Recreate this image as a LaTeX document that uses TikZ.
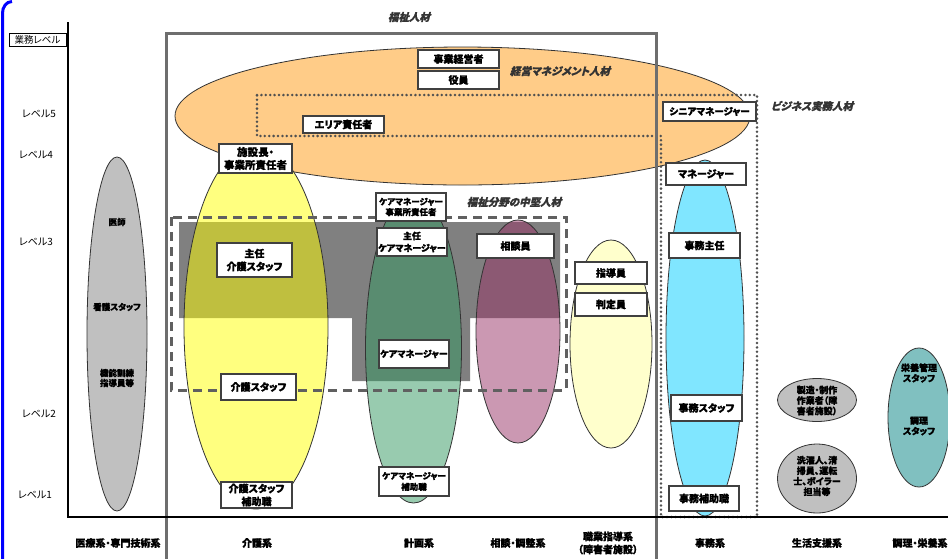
\documentclass[tikz,border=0pt]{standalone}
\usepackage{fontspec}
\setmainfont[RawFeature=+palt,BoldFeatures={FakeBold=1.2}]{Noto Sans CJK JP}
\newfontfamily\jpsl[FakeSlant=0.25,RawFeature=+palt,BoldFeatures={FakeBold=1.2}]{Noto Sans CJK JP}
\usetikzlibrary{shapes.geometric}
\definecolor{orangeF}{HTML}{FFCC88}
\definecolor{greyblk}{HTML}{808080}
\definecolor{frameC}{HTML}{6E6E6E}
\definecolor{dotC}{HTML}{606060}
\definecolor{dotD}{HTML}{505050}
\definecolor{boxC}{HTML}{404040}
\definecolor{ellC}{HTML}{333333}
\definecolor{yelF}{HTML}{FFFF00}
\definecolor{grnF}{HTML}{339961}
\definecolor{pnkF}{HTML}{993367}
\definecolor{paleY}{HTML}{FFFFCC}
\definecolor{cyanF}{HTML}{80E6FF}
\definecolor{greyF}{HTML}{C0C0C0}
\definecolor{tealF}{HTML}{80C0C0}
\definecolor{labC}{HTML}{333333}
\newcommand\fsz[2]{\fontsize{#1}{#2}\selectfont}
\begin{document}
\begin{tikzpicture}[x=1pt,y=-1pt,
  every node/.style={inner sep=0pt,outer sep=0pt},
  bx/.style={draw=boxC,fill=white,line width=1.3pt,align=center,font=\fsz{10}{12}\bfseries},
  ell/.style={ellipse,draw=ellC,line width=0.8pt,inner sep=0pt},
  etxt/.style={align=center,font=\fsz{8.5}{10}\bfseries},
  stxt/.style={align=center,font=\fsz{9}{10.5}\bfseries},
  lev/.style={font=\fsz{10}{12}},
  cat/.style={align=center,font=\fsz{10}{13}\bfseries},
  grp/.style={text=labC,font=\jpsl\bfseries\fsz{10.5}{12}}]
\useasboundingbox (0,0) rectangle (948,558);
\fill[white] (0,0) rectangle (948,558);

% blue border
\draw[blue,line width=3pt] (2.5,560) -- (2.5,13) to[out=90,in=180] (12,1.5);

% orange management ellipse
\node[ell,fill=orangeF,minimum width=575,minimum height=138] (mgmt) at (462.5,116) {};

% grey band of mid-level staff
\fill[greyblk] (179,222) -- (560,222) -- (560,318) -- (470,318) -- (470,381)
  -- (352,381) -- (352,318) -- (179,318) -- cycle;

% ellipses
\node[ell,fill=greyF,minimum width=60,minimum height=354] (iryo) at (117,334) {};
\node[ell,fill=yelF,fill opacity=0.5,minimum width=144,minimum height=364] (kaigo) at (256,327) {};
\node[ell,fill=grnF,fill opacity=0.5,minimum width=96,minimum height=310] (keikaku) at (413.5,348) {};
\node[ell,fill=pnkF,fill opacity=0.5,minimum width=84,minimum height=223] (sodan) at (518,331.5) {};
\node[ell,fill=paleY,minimum width=82,minimum height=208] (shokugyo) at (611,344) {};
\node[ell,fill=cyanF,minimum width=78,minimum height=356] (jimu) at (705,338) {};
\node[ell,fill=greyF,minimum width=79,minimum height=43] (seizo) at (817,400) {};
\node[ell,fill=greyF,minimum width=79,minimum height=69] (sentaku) at (817,478.5) {};
\node[ell,fill=tealF,minimum width=62,minimum height=139] (chori) at (919,417.5) {};

% dashed mid-level frame
\draw[dotC,line width=3pt,dash pattern=on 9pt off 6pt] (171,217) rectangle (566,390);

% dotted business frame
\draw[dotD,line width=2.8pt,line cap=round,dash pattern=on 0pt off 4.4pt]
  (257,95) -- (757,95) -- (757,517) -- (661,517) -- (661,136) -- (257,136) -- cycle;

% welfare frame
\draw[frameC,line width=3pt] (166,560) -- (166,33) -- (656,33) -- (656,560);

% axes
\draw[black,line width=1.4pt] (68,22) -- (68,517) -- (950,517);

% group labels
\node[grp] (gFukushi) at (409,17) {福祉人材};
\node[grp] (gKeiei) at (560,71) {経営マネジメント人材};
\node[grp] (gBiz) at (812,106) {ビジネス実務人材};
\node[grp] (gChuken) at (514,202) {福祉分野の中堅人材};

% level axis
\node[draw=black,line width=0.8pt,fill=white,minimum width=57,minimum height=13,font=\fsz{9.5}{11}] (lvAxis) at (37.5,39.5) {業務レベル};
\node[lev] (lv5) at (39,114) {レベル5};
\node[lev] (lv4) at (36,155) {レベル4};
\node[lev] (lv3) at (36,242) {レベル3};
\node[lev] (lv2) at (39,414) {レベル2};
\node[lev] (lv1) at (35,495) {レベル1};

% boxes
\node[bx,minimum width=81,minimum height=18] (b1) at (458.5,59) {事業経営者};
\node[bx,minimum width=81,minimum height=18] (b2) at (458.5,80) {役員};
\node[bx,minimum width=81,minimum height=17] (b3) at (343.5,124.5) {エリア責任者};
\node[bx,minimum width=93,minimum height=19,font=\fsz{9.5}{11}\bfseries] (b4) at (709.5,111.5) {シニアマネージャー};
\node[bx,minimum width=73,minimum height=29,font=\fsz{10.5}{13}\bfseries] (b5) at (255.5,158.5) {施設長・\\事業所責任者};
\node[bx,minimum width=80,minimum height=22] (b6) at (706,174) {マネージャー};
\node[bx,minimum width=75,minimum height=34,font=\fsz{10}{13}\bfseries] (b7) at (254.5,260) {主任\\介護スタッフ};
\node[bx,minimum width=75,minimum height=26] (b8) at (258.5,387) {介護スタッフ};
\node[bx,minimum width=71,minimum height=26,font=\fsz{10}{13}\bfseries] (b9) at (256.5,495) {介護スタッフ\\補助職};
\node[bx,minimum width=70,minimum height=28,font=\fsz{8.5}{10.5}\bfseries] (b10) at (411,207) {ケアマネージャー\\事業所責任者};
\node[bx,minimum width=70,minimum height=28,font=\fsz{9}{12}\bfseries] (b11) at (412,242) {主任\\ケアマネージャー};
\node[bx,minimum width=77,minimum height=24] (b12) at (515.5,246) {相談員};
\node[bx,minimum width=72,minimum height=22] (b13) at (611,273) {指導員};
\node[bx,minimum width=72,minimum height=23] (b14) at (611,304.5) {判定員};
\node[bx,minimum width=70,minimum height=28,font=\fsz{9}{11}\bfseries] (b15) at (414,354) {ケアマネージャー};
\node[bx,minimum width=70,minimum height=29,font=\fsz{8.5}{11}\bfseries] (b16) at (414,481.5) {ケアマネージャー\\補助職};
\node[bx,minimum width=71,minimum height=25] (b17) at (704.5,245.5) {事務主任};
\node[bx,minimum width=71,minimum height=26] (b18) at (706.5,408) {事務スタッフ};
\node[bx,minimum width=70,minimum height=25] (b19) at (704,498.5) {事務補助職};

% texts inside ellipses
\node[etxt] (t1) at (117,222) {医師};
\node[etxt] (t2) at (117,307) {看護スタッフ};
\node[etxt] (t3) at (117,378) {機能訓練\\指導員等};
\node[stxt] (t4) at (817,400.5) {製造・制作\\作業者（障\\害者施設）};
\node[stxt] (t5) at (817,476) {洗濯人、清\\掃員、運転\\士、ボイラー\\担当等};
\node[stxt] (t6) at (919,373) {栄養管理\\スタッフ};
\node[stxt] (t7) at (919,426) {調理\\スタッフ};

% category labels
\node[cat] (c1) at (118,543) {医療系・専門技術系};
\node[cat] (c2) at (257,543) {介護系};
\node[cat] (c3) at (419,543) {計画系};
\node[cat] (c4) at (518,543) {相談・調整系};
\node[cat] (c5) at (608,543) {職業指導系\\（障害者施設）};
\node[cat] (c6) at (710,543) {事務系};
\node[cat] (c7) at (817,543) {生活支援系};
\node[cat] (c8) at (920,543) {調理・栄養系};
\end{tikzpicture}
\end{document}
